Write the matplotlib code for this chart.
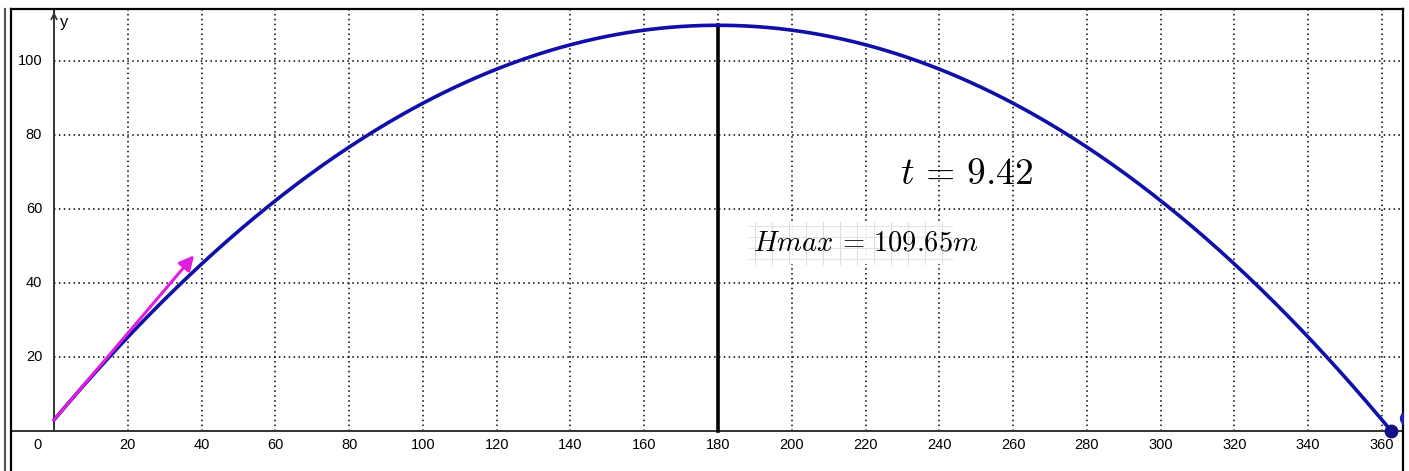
import matplotlib.pyplot as plt
import numpy as np

plt.rcParams['mathtext.fontset'] = 'cm'
plt.rcParams['font.family'] = ['Liberation Sans', 'DejaVu Sans']

# values
launch_h = 3.0        # start height of the throw
apex_x = 180          # x of highest point
h_max = 109.65        # highest point
t_value = 9.42
arrow_tip = (38, 47.5)      # velocity vector end
extra_point = (366.8, 3.5)  # point cut off by the right edge
x_ticks = [20, 40, 60, 80, 100, 120, 140, 160, 180, 200, 220, 240,
           260, 280, 300, 320, 340, 360]
y_ticks = [20, 40, 60, 80, 100]

# parabola through launch point with vertex at (apex_x, h_max)
a = (h_max - launch_h) / apex_x ** 2
x_land = apex_x + np.sqrt(h_max / a)
xs = np.linspace(0, x_land, 500)
ys = h_max - a * (xs - apex_x) ** 2

W, H = 1409, 471
XMIN, XMAX = -11.66, 365.7
YMIN, YMAX = -10.8, 114.05
fig = plt.figure(figsize=(W / 100, H / 100), dpi=100)
ax = fig.add_axes([11 / W, 0, (1403 - 11) / W, (H - 9) / H])
ax.set_xlim(XMIN, XMAX)
ax.set_ylim(YMIN, YMAX)

for s in ['top', 'left', 'right']:
    ax.spines[s].set_linewidth(1.6)
    ax.spines[s].set_color('black')
ax.spines['bottom'].set_visible(False)
ax.set_xticks([])
ax.set_yticks([])

# outer left line of the frame
fig.add_artist(plt.Line2D([4.5 / W, 4.5 / W], [0, 1 - 9 / H], color='#555555',
                          lw=1.6, transform=fig.transFigure))

# grid, only in the first quadrant
dot = (0, (1, 2.2))
for gx in x_ticks:
    ax.plot([gx, gx], [0, YMAX], color='black', lw=1.1, ls=dot, zorder=1)
for gy in y_ticks:
    ax.plot([0, XMAX], [gy, gy], color='black', lw=1.1, ls=dot, zorder=1)

# axes through origin
ax.plot([XMIN, XMAX], [0, 0], color='#333333', lw=1.4, zorder=2)
ax.plot([0, 0], [0, YMAX], color='#333333', lw=1.4, zorder=2)
ax.annotate('', xy=(0, 114.0), xytext=(0, 110.5),
            arrowprops=dict(arrowstyle='->', color='#333333', lw=1.2,
                            mutation_scale=10))
ax.text(1.6, 110.5, 'y', fontsize=12, ha='left', va='center')

# tick labels
for gx in x_ticks:
    ax.text(gx, -3.9, str(gx), fontsize=10.5, ha='center', va='center')
for gy in y_ticks:
    ax.text(-3.2, gy, str(gy), fontsize=10.5, ha='right', va='center')
ax.text(-4.5, -3.9, '0', fontsize=10.5, ha='center', va='center')

# trajectory
ax.plot(xs, ys, color='#1010a8', lw=2.6, zorder=4, solid_capstyle='round')
ax.plot([x_land], [0], 'o', color='#101088', ms=9, zorder=5)
ax.plot([extra_point[0]], [extra_point[1]], 'o', color='#2020b0', ms=10,
        zorder=5, clip_on=True)

# max height line
ax.plot([apex_x, apex_x], [0, h_max], color='black', lw=2.6, zorder=3)

# velocity vector
ax.annotate('', xy=arrow_tip, xytext=(0, launch_h),
            arrowprops=dict(arrowstyle='-|>', color='#e01ee0', lw=2.2,
                            mutation_scale=22, shrinkA=0, shrinkB=0),
            zorder=6)

# labels
ax.text(247.5, 69.5, r'$t\,=\,%.2f$' % t_value, fontsize=27, ha='center',
        va='center', zorder=6)

# faint grid behind the Hmax label
bx0, bx1, by0, by1 = 188.5, 243.5, 45.2, 56.5
ax.fill_between([bx0, bx1], by0, by1, color='white', alpha=0.9, zorder=5,
                lw=0)
for k in range(12):
    xx = bx0 + 1.5 + k * 4.6
    ax.plot([xx, xx], [by0, by1], color='#dddddd', lw=0.8, zorder=5)
for k in range(4):
    yy = by0 + 1.3 + k * 3.0
    ax.plot([bx0, bx1], [yy, yy], color='#e4e4e4', lw=0.8, zorder=5)
ax.text(189.5, 50.8, r'$Hmax\,=\,%.2fm$' % h_max, fontsize=20.5, ha='left',
        va='center', zorder=6)

fig.savefig('out.png', dpi=100)
